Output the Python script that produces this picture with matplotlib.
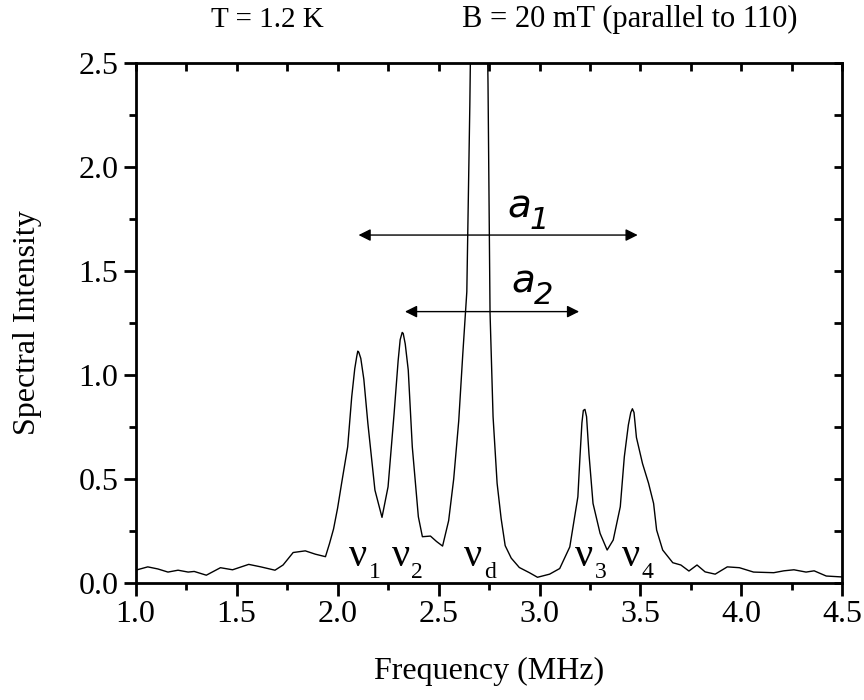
import numpy as np
import matplotlib.pyplot as plt
from matplotlib.ticker import MultipleLocator

plt.rcParams['font.family'] = ['Liberation Serif', 'DejaVu Serif']
plt.rcParams['mathtext.fontset'] = 'custom'
plt.rcParams['mathtext.rm'] = 'Liberation Serif'

# spectrum (MHz, intensity)
freq = [1.00, 1.06, 1.11, 1.16, 1.21, 1.26, 1.29, 1.35, 1.42, 1.48, 1.56, 1.62,
        1.69, 1.73, 1.78, 1.84, 1.89, 1.94, 1.96, 1.98, 2.00, 2.02, 2.05, 2.07,
        2.085, 2.095, 2.10, 2.105, 2.115, 2.13, 2.15, 2.185, 2.22, 2.25, 2.28,
        2.30, 2.31, 2.32, 2.325, 2.335, 2.35, 2.37, 2.40, 2.42, 2.46, 2.49, 2.52,
        2.55, 2.575, 2.60, 2.62, 2.64, 2.655, 2.67, 2.70, 2.73, 2.745, 2.755,
        2.77, 2.79, 2.81, 2.83, 2.86, 2.90, 2.95, 2.99, 3.05, 3.10, 3.15, 3.19,
        3.20, 3.21, 3.217, 3.225, 3.233, 3.245, 3.265, 3.30, 3.335, 3.365, 3.40,
        3.42, 3.44, 3.452, 3.46, 3.468, 3.48, 3.51, 3.54, 3.565, 3.58, 3.61,
        3.66, 3.70, 3.74, 3.78, 3.82, 3.87, 3.93, 3.99, 4.06, 4.16, 4.21, 4.26,
        4.32, 4.36, 4.42, 4.49, 4.50]
intensity = [0.062, 0.078, 0.068, 0.053, 0.062, 0.053, 0.056, 0.038, 0.074, 0.064,
             0.090, 0.078, 0.062, 0.087, 0.147, 0.155, 0.139, 0.127, 0.19, 0.26,
             0.36, 0.48, 0.655, 0.895, 1.03, 1.09, 1.115, 1.11, 1.08, 0.98, 0.768,
             0.447, 0.316, 0.463, 0.816, 1.07, 1.17, 1.205, 1.20, 1.15, 1.024,
             0.655, 0.319, 0.223, 0.226, 0.20, 0.178, 0.30, 0.50, 0.78, 1.10, 1.40,
             2.30, 3.50, 5.00, 3.50, 2.40, 1.30, 0.80, 0.48, 0.31, 0.18, 0.12,
             0.075, 0.05, 0.028, 0.043, 0.07, 0.174, 0.415, 0.60, 0.77, 0.83, 0.835,
             0.80, 0.62, 0.383, 0.239, 0.159, 0.207, 0.367, 0.607, 0.76, 0.82,
             0.838, 0.82, 0.70, 0.575, 0.48, 0.383, 0.255, 0.159, 0.098, 0.087,
             0.058, 0.087, 0.054, 0.043, 0.078, 0.074, 0.053, 0.05, 0.059, 0.064,
             0.053, 0.059, 0.034, 0.030, 0.030]

peak_labels = ['1', '2', 'd', '3', '4']
peak_pos = [2.10, 2.31, 2.67, 3.22, 3.45]

fig = plt.figure(figsize=(8.64, 7.0), dpi=100)
ax = fig.add_axes([0.157, 0.167, 0.818, 0.743])

ax.plot(freq, intensity, color='black', lw=1.0)

ax.set_xlim(1.0, 4.5)
ax.set_ylim(0.0, 2.5)
ax.xaxis.set_major_locator(MultipleLocator(0.5))
ax.xaxis.set_minor_locator(MultipleLocator(0.25))
ax.yaxis.set_major_locator(MultipleLocator(0.5))
ax.yaxis.set_minor_locator(MultipleLocator(0.25))
ax.xaxis.set_major_formatter(lambda v, p: f'{v:.1f}')
ax.yaxis.set_major_formatter(lambda v, p: f'{v:.1f}')
ax.tick_params(which='major', direction='out', length=9, width=2, labelsize=23)
ax.tick_params(which='minor', direction='out', length=5, width=2)
for s in ax.spines.values():
    s.set_linewidth(2)

top = ax.secondary_xaxis('top')
top.xaxis.set_major_locator(MultipleLocator(0.25))
top.tick_params(direction='in', length=6, width=2, labeltop=False)
right = ax.secondary_yaxis('right')
right.yaxis.set_major_locator(MultipleLocator(0.25))
right.tick_params(direction='in', length=6, width=2, labelright=False)

ax.set_xlabel('Frequency (MHz)', fontsize=23, labelpad=20)
ax.set_ylabel('Spectral Intensity', fontsize=23, labelpad=26)

# hyperfine splitting arrows
ax.annotate('', xy=(2.09, 1.673), xytext=(3.50, 1.673),
            arrowprops=dict(arrowstyle='<|-|>', color='black', lw=1.0, mutation_scale=18))
ax.annotate('', xy=(2.32, 1.305), xytext=(3.21, 1.305),
            arrowprops=dict(arrowstyle='<|-|>', color='black', lw=1.0, mutation_scale=18))
ax.text(2.84, 1.76, r'$a$', fontsize=28, family='DejaVu Sans', style='italic')
ax.text(2.95, 1.70, '1', fontsize=22, family='DejaVu Sans', style='italic')
ax.text(2.86, 1.40, r'$a$', fontsize=28, family='DejaVu Sans', style='italic')
ax.text(2.97, 1.34, '2', fontsize=22, family='DejaVu Sans', style='italic')

for lab, x in zip(peak_labels, peak_pos):
    ax.text(x, 0.08, r'$\mathregular{\nu}$', fontsize=29, ha='center')
    ax.text(x + 0.055, 0.025, lab, fontsize=17)

fig.text(0.309, 0.962, 'T = 1.2 K', fontsize=21, ha='center')
fig.text(0.729, 0.962, 'B = 20 mT (parallel to 110)', fontsize=22, ha='center')

fig.savefig('out.png', dpi=100)
